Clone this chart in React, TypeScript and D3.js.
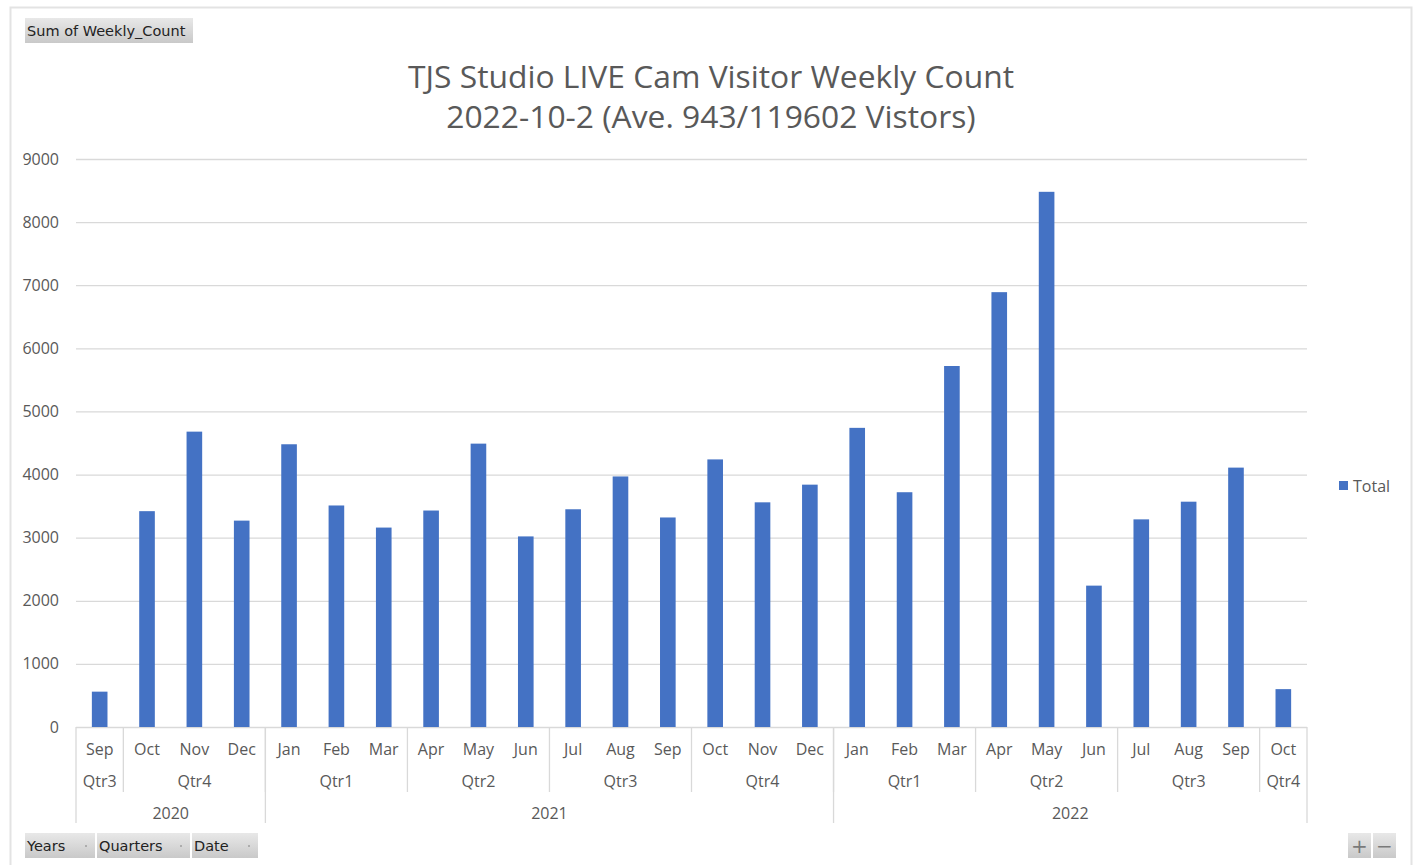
import React, { useEffect, useRef } from 'react';
import * as d3 from 'd3';

const months = ["Sep", "Oct", "Nov", "Dec", "Jan", "Feb", "Mar", "Apr", "May", "Jun", "Jul", "Aug", "Sep", "Oct", "Nov", "Dec", "Jan", "Feb", "Mar", "Apr", "May", "Jun", "Jul", "Aug", "Sep", "Oct"];
const years = ["2020", "2020", "2020", "2020", "2021", "2021", "2021", "2021", "2021", "2021", "2021", "2021", "2021", "2021", "2021", "2021", "2022", "2022", "2022", "2022", "2022", "2022", "2022", "2022", "2022", "2022"];
const weeklyCount = [560, 3420, 4680, 3270, 4480, 3510, 3160, 3430, 4490, 3020, 3450, 3970, 3320, 4240, 3560, 3840, 4740, 3720, 5720, 6890, 8480, 2240, 3290, 3570, 4110, 600];
const yTicks = [0, 1000, 2000, 3000, 4000, 5000, 6000, 7000, 8000, 9000];
const quarterOf: Record<string, string> = {
  Jan: "Qtr1", Feb: "Qtr1", Mar: "Qtr1", Apr: "Qtr2", May: "Qtr2", Jun: "Qtr2",
  Jul: "Qtr3", Aug: "Qtr3", Sep: "Qtr3", Oct: "Qtr4", Nov: "Qtr4", Dec: "Qtr4",
};

const FONT = "'Open Sans', 'Noto Sans', sans-serif";
const TEXT = "#595959";
const GRID = "#d9d9d9";

// group consecutive indices by a key
function groups(keyFn: (i: number) => string) {
  const out: { key: string; start: number; end: number }[] = [];
  months.forEach((_, i) => {
    const k = keyFn(i);
    const last = out[out.length - 1];
    if (last && last.key === k) last.end = i;
    else out.push({ key: k, start: i, end: i });
  });
  return out;
}

export default function App() {
  const ref = useRef<SVGSVGElement>(null);

  useEffect(() => {
    const svg = d3.select(ref.current);
    svg.selectAll("*").remove();

    const left = 76, right = 1307, top = 159, bottom = 727;

    // outer frame
    svg.append("rect").attr("x", 10.5).attr("y", 7.5).attr("width", 1401).attr("height", 870)
      .attr("fill", "#fff").attr("stroke", "#e3e3e3").attr("stroke-width", 2);

    const x = d3.scaleBand().domain(months.map((_, i) => String(i))).range([left, right]).paddingInner(0.67).paddingOuter(0.335);
    const y = d3.scaleLinear().domain([0, 9000]).range([bottom, top]);
    const step = (right - left) / months.length;

    // gridlines
    svg.append("g").selectAll("line").data(yTicks).enter().append("line")
      .attr("x1", left).attr("x2", right)
      .attr("y1", d => y(d) + 0.5).attr("y2", d => y(d) + 0.5)
      .attr("stroke", GRID).attr("stroke-width", 1.3);

    svg.append("g").selectAll("text").data(yTicks).enter().append("text")
      .attr("x", 59).attr("y", d => y(d)).attr("dy", "0.35em")
      .attr("text-anchor", "end").attr("font-family", FONT).attr("font-size", 16).attr("fill", TEXT)
      .text(d => d);

    // title
    const title = svg.append("text").attr("text-anchor", "middle").attr("font-family", FONT)
      .attr("font-size", 31.8).attr("fill", TEXT);
    title.append("tspan").attr("x", 711).attr("y", 88).text("TJS Studio LIVE Cam Visitor Weekly Count");
    title.append("tspan").attr("x", 711).attr("y", 128).text("2022-10-2 (Ave. 943/119602 Vistors)");

    // bars
    svg.append("g").selectAll("rect").data(weeklyCount).enter().append("rect")
      .attr("x", (_, i) => x(String(i))!)
      .attr("y", d => y(d))
      .attr("width", x.bandwidth())
      .attr("height", d => bottom - y(d))
      .attr("fill", "#4472C4");

    // multi-level category axis
    const g = svg.append("g").attr("font-family", FONT).attr("font-size", 16).attr("fill", TEXT).attr("text-anchor", "middle");
    const lineAt = (xx: number, y2: number) =>
      g.append("line").attr("x1", xx).attr("x2", xx).attr("y1", bottom).attr("y2", y2).attr("stroke", GRID).attr("stroke-width", 1.3);

    months.forEach((m, i) => {
      g.append("text").attr("x", left + step * (i + 0.5)).attr("y", 755).text(m);
    });
    const qGroups = groups(i => years[i] + quarterOf[months[i]]);
    qGroups.forEach(q => {
      g.append("text").attr("x", left + step * ((q.start + q.end + 1) / 2)).attr("y", 787).text(q.key.slice(4));
      if (q.start > 0) lineAt(left + step * q.start, 792);
    });
    const yGroups = groups(i => years[i]);
    yGroups.forEach(yr => {
      g.append("text").attr("x", left + step * ((yr.start + yr.end + 1) / 2)).attr("y", 819).text(yr.key);
      lineAt(left + step * yr.start, 823);
    });
    lineAt(right, 823);

    // legend
    svg.append("rect").attr("x", 1339).attr("y", 481).attr("width", 9).attr("height", 9).attr("fill", "#4472C4");
    svg.append("text").attr("x", 1353).attr("y", 486).attr("dy", "0.35em").attr("font-family", FONT)
      .attr("font-size", 16).attr("fill", TEXT).text("Total");

    // pivot field buttons
    const grad = svg.append("defs").append("linearGradient").attr("id", "btn").attr("x1", 0).attr("x2", 0).attr("y1", 0).attr("y2", 1);
    grad.append("stop").attr("offset", "0%").attr("stop-color", "#e8e8e8");
    grad.append("stop").attr("offset", "100%").attr("stop-color", "#c9c9c9");

    const button = (bx: number, by: number, w: number, label: string, dot: boolean, anchor = "start") => {
      svg.append("rect").attr("x", bx).attr("y", by).attr("width", w).attr("height", 25).attr("fill", "url(#btn)");
      svg.append("text").attr("x", anchor === "middle" ? bx + w / 2 : bx + 2).attr("y", by + 13).attr("dy", "0.35em")
        .attr("text-anchor", anchor)
        .attr("font-family", "'DejaVu Sans', 'Noto Sans', sans-serif").attr("font-size", anchor === "middle" ? 20 : 14.5)
        .attr("fill", anchor === "middle" ? "#7a7a7a" : "#222").text(label);
      if (dot) svg.append("circle").attr("cx", bx + w - 9).attr("cy", by + 13).attr("r", 0.8).attr("fill", "#777");
    };
    button(25, 18, 168, "Sum of Weekly_Count", false);
    button(25, 833, 70, "Years", true);
    button(97, 833, 93, "Quarters", true);
    button(192, 833, 66, "Date", true);
    button(1348, 833, 23, "+", false, "middle");
    button(1373, 833, 23, "−", false, "middle");
  }, []);

  return <svg ref={ref} width={1418} height={865} style={{ position: 'absolute', left: 0, top: 0 }} />;
}
